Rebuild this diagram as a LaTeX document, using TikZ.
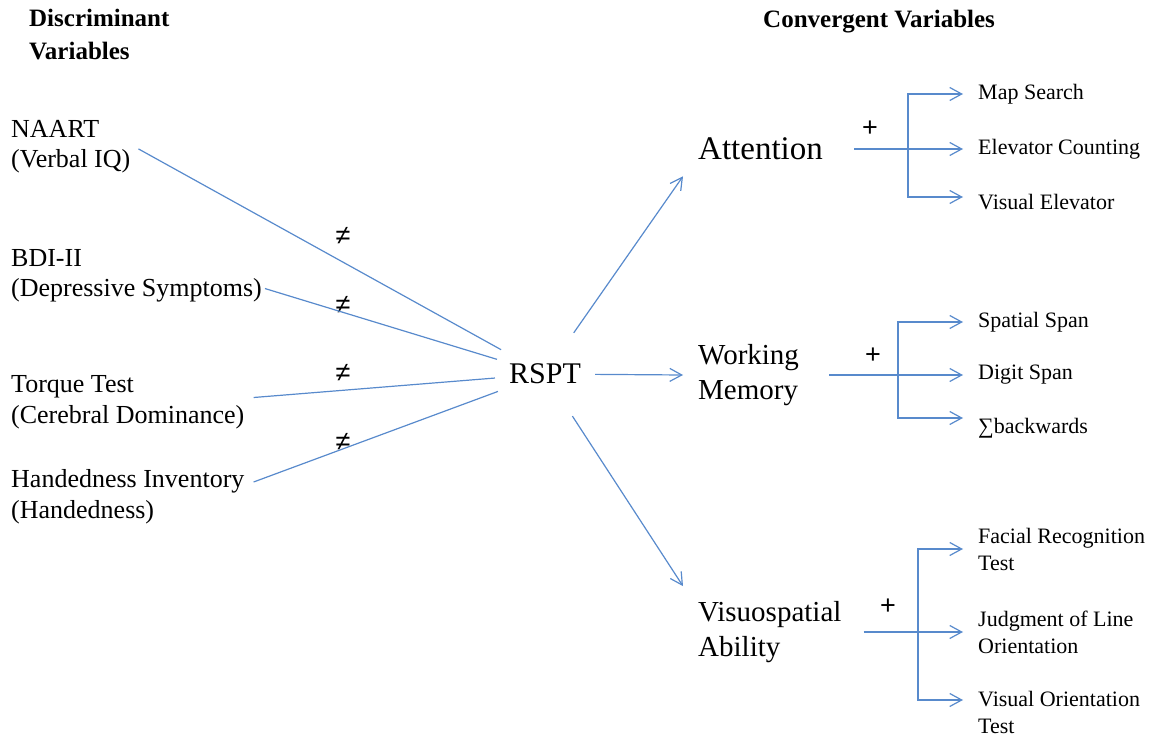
\documentclass[tikz,border=0pt]{standalone}
\usepackage{fontspec}
\setmainfont{Liberation Serif}
\newfontfamily\signfont{Liberation Sans}
\usetikzlibrary{arrows.meta}
\definecolor{linkblue}{RGB}{88,138,204}

\begin{document}
\begin{tikzpicture}[x=1pt,y=-1pt,
  head/.style={font=\fontsize{25}{33}\selectfont\bfseries, align=left, anchor=base west, inner sep=0pt},
  var/.style={font=\fontsize{26}{30.5}\selectfont, align=left, anchor=base west, inner sep=0pt},
  factor/.style={font=\fontsize{29}{35}\selectfont, align=left, anchor=west, inner sep=0pt},
  item/.style={font=\fontsize{22}{27}\selectfont, align=left, anchor=west, inner sep=0pt},
  sign/.style={font=\signfont\fontsize{27}{30}\selectfont, inner sep=0pt},
  link/.style={draw=linkblue, line width=1.2pt},
  arr/.style={link, -{Straight Barb[length=12pt,width=13pt]}},
  fork/.style={link, {Straight Barb[length=12pt,width=13pt]}-{Straight Barb[length=12pt,width=13pt]}}
]
  \useasboundingbox (0,0) rectangle (1149,738);

  % headings
  \node[head] (disc) at (29,60) {Discriminant\\Variables};
  \node[head] (conv) at (763,28) {Convergent Variables};

  % discriminant side
  \node[var] (naart) at (11,168) {NAART\\(Verbal IQ)};
  \node[var] (bdi) at (11,297) {BDI-II\\(Depressive Symptoms)};
  \node[var] (torque) at (11,423) {Torque Test\\(Cerebral Dominance)};
  \node[var] (hand) at (11,518) {Handedness Inventory\\(Handedness)};

  \node[circle, minimum size=100pt, inner sep=0pt, font=\fontsize{30}{35}\selectfont] (rspt) at (545,374) {RSPT};

  \node[sign] (ne1) at (343,236) {≠};
  \node[sign] (ne2) at (343,305) {≠};
  \node[sign] (ne3) at (343,373) {≠};
  \node[sign] (ne4) at (343,442) {≠};

  \draw[link] ([shift={(8pt,-2pt)}]naart.east) -- (rspt);
  \draw[link] ([shift={(3pt,-12.5pt)}]bdi.east) -- (rspt);
  \draw[link] ([shift={(9pt,4.5pt)}]torque.east) -- (rspt);
  \draw[link] ([shift={(9pt,14.5pt)}]hand.east) -- (rspt);

  % convergent side
  \node[factor, font=\fontsize{33}{38}\selectfont] (att) at (698,149) {Attention};
  \node[factor] (wm) at (698,375) {Working\\Memory};
  \node[factor] (vis) at (698,632) {Visuospatial\\Ability};

  \draw[arr] (rspt) -- ([shift={(-15pt,-16pt)}]att.south west);
  \draw[arr] (rspt) -- ([xshift=-15pt]wm.west);
  \draw[arr] (rspt) -- ([shift={(-15pt,15pt)}]vis.north west);

  \node[item] (map) at (978,94) {Map Search};
  \node[item] (elev) at (978,149) {Elevator Counting};
  \node[item] (visel) at (978,202) {Visual Elevator};

  \node[item] (spat) at (978,322) {Spatial Span};
  \node[item] (digit) at (978,375) {Digit Span};
  \node[item] (back) at (978,428) {∑backwards};

  \node[item] (face) at (978,549) {Facial Recognition\\Test};
  \node[item] (judg) at (978,632) {Judgment of Line\\Orientation};
  \node[item] (vot) at (978,712) {Visual Orientation\\Test};

  \node[sign] (plus1) at (870,129) {+};
  \node[sign] (plus2) at (873,356) {+};
  \node[sign] (plus3) at (888,607) {+};

  \coordinate (attfork) at (908,149);
  \coordinate (wmfork) at (898,375);
  \coordinate (visfork) at (918,632);

  \draw[arr] ([xshift=31pt]att.east) -- ([xshift=-15pt]elev.west);
  \draw[fork] ([xshift=-15pt]map.west) -| (attfork) |- ([shift={(-15pt,5pt)}]visel.west);

  \draw[arr] ([xshift=30pt]wm.east) -- ([xshift=-15pt]digit.west);
  \draw[fork] ([xshift=-15pt]spat.west) -| (wmfork) |- ([shift={(-15pt,10pt)}]back.west);

  \draw[arr] ([xshift=22pt]vis.east) -- ([xshift=-15pt]judg.west);
  \draw[fork] ([xshift=-15pt]face.west) -| (visfork) |- ([shift={(-15pt,12pt)}]vot.west);
\end{tikzpicture}
\end{document}
